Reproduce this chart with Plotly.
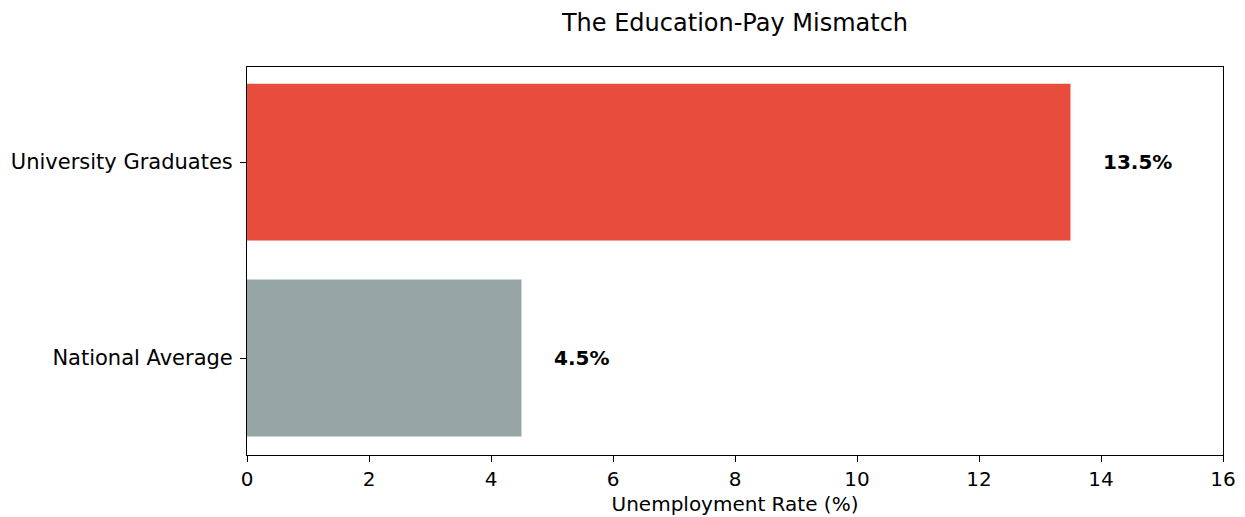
import plotly.graph_objects as go

categories = ["National Average", "University Graduates"]
rates = [4.5, 13.5]
colors = ["#95a5a6", "#e74c3c"]
labels = ["4.5%", "13.5%"]
x_ticks = [0, 2, 4, 6, 8, 10, 12, 14, 16]

font = "DejaVu Sans, Verdana, sans-serif"

fig = go.Figure()
fig.add_trace(go.Bar(
    y=[0, 1], x=rates, orientation="h", width=0.8,
    marker=dict(color=colors, line=dict(width=0)),
    hoverinfo="skip", showlegend=False,
))

for i, (v, t) in enumerate(zip(rates, labels)):
    fig.add_annotation(x=v + 0.5, y=i, text=f"<b>{t}</b>", showarrow=False,
                       xanchor="left", yanchor="middle",
                       font=dict(family=font, size=20, color="black"))

fig.update_layout(
    width=1245, height=517,
    margin=dict(l=247, r=22, t=67, b=62, autoexpand=False),
    paper_bgcolor="white", plot_bgcolor="white",
    title=dict(text="The Education-Pay Mismatch", xref="paper", x=0.5,
               xanchor="center", y=1 - 23 / 517, yanchor="middle",
               font=dict(family=font, size=24, color="black")),
    font=dict(family=font, size=20, color="black"),
    xaxis=dict(range=[0, 16], tickvals=x_ticks, ticks="outside", ticklen=6,
               tickcolor="black", showline=True, linecolor="black", linewidth=1,
               mirror=True, showgrid=False, zeroline=False, automargin=False,
               title=dict(text="Unemployment Rate (%)", standoff=6,
                          font=dict(family=font, size=20)),
               tickfont=dict(family=font, size=20)),
    yaxis=dict(range=[-0.495, 1.485], tickvals=[0, 1], ticktext=categories,
               ticks="outside", ticklen=6, tickcolor="black", showline=True,
               linecolor="black", linewidth=1, mirror=True, showgrid=False,
               zeroline=False, ticklabelstandoff=3, automargin=False,
               tickfont=dict(family=font, size=21)),
)

fig.write_html("out.html")
